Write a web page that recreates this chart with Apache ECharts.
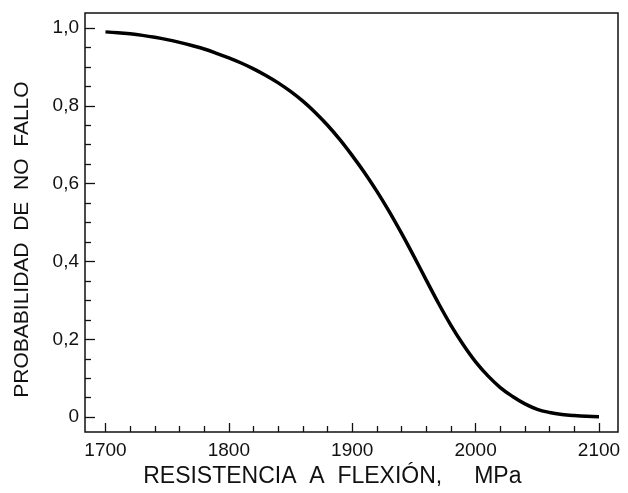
<!DOCTYPE html>
<html>
<head>
<meta charset="utf-8">
<script src="https://cdn.jsdelivr.net/npm/echarts@6/dist/echarts.min.js"></script>
<style>
  html, body { margin: 0; padding: 0; background: #fff; }
</style>
</head>
<body>
<div id="main" style="width: 628px; height: 493px;"></div>
<script>
// resistencia a flexión (MPa)
var resistencia = [1700, 1710, 1720, 1730, 1740, 1750, 1760, 1770, 1780, 1790,
  1800, 1810, 1820, 1830, 1840, 1850, 1860, 1870, 1880, 1890,
  1900, 1910, 1920, 1930, 1940, 1950, 1960, 1970, 1980, 1990,
  2000, 2010, 2020, 2030, 2040, 2050, 2060, 2070, 2080, 2090, 2100];
// probabilidad de no fallo
var probabilidad = [0.990, 0.988, 0.985, 0.981, 0.976, 0.970, 0.963, 0.955, 0.946, 0.935,
  0.923, 0.910, 0.895, 0.878, 0.859, 0.837, 0.812, 0.783, 0.750, 0.713,
  0.672, 0.628, 0.580, 0.528, 0.472, 0.413, 0.352, 0.292, 0.236, 0.186,
  0.142, 0.106, 0.076, 0.053, 0.034, 0.020, 0.012, 0.007, 0.004, 0.002, 0.001];

// marcas de los ejes
var xMayores = [1700, 1800, 1900, 2000, 2100];
var yMayores = [0, 0.2, 0.4, 0.6, 0.8, 1.0];

var xMenores = [];
for (var i = 0; i < xMayores.length - 1; i++) {
  for (var k = 1; k < 5; k++) xMenores.push(xMayores[i] + k * 20);
}
var yMenores = [];
for (var j = 0; j < yMayores.length - 1; j++) {
  for (var m = 1; m < 4; m++) yMenores.push(+(yMayores[j] + m * 0.05).toFixed(2));
}

var puntos = resistencia.map(function (x, i) { return [x, probabilidad[i]]; });

var myChart = echarts.init(document.getElementById('main'));
var fuente = "'Liberation Sans', Arial, sans-serif";
var negro = '#111';
var xRango = [1683.4, 2115.4];
var yRango = [-0.0359, 1.0385];

var option = {
  animation: false,
  grid: [
    // marco
    { left: 85, top: 13, right: 10, bottom: 61, show: true, borderColor: negro, borderWidth: 1.5, backgroundColor: 'transparent' },
    // ejes y curva
    { left: 85, top: 13, right: 10, bottom: 61 },
    // franja bajo el marco: sus marcas (eje superior) suben hacia dentro del marco
    { left: 85, top: 432, right: 10, height: 10 }
  ],
  xAxis: [
    { gridIndex: 0, type: 'value', show: false, min: 0, max: 1 },
    {
      gridIndex: 1,
      type: 'value',
      position: 'bottom',
      min: xRango[0],
      max: xRango[1],
      name: 'RESISTENCIA  A  FLEXIÓN,     MPa      ',
      nameLocation: 'middle',
      nameGap: 32,
      nameTextStyle: { fontFamily: fuente, fontSize: 23, color: negro },
      axisLine: { show: false, onZero: false },
      axisTick: { show: false },
      axisLabel: {
        margin: 10, fontFamily: fuente, fontSize: 19, color: negro,
        customValues: xMayores,
        formatter: function (v) { return String(v); }
      },
      splitLine: { show: false }
    },
    {
      gridIndex: 2,
      type: 'value',
      position: 'top',
      min: xRango[0],
      max: xRango[1],
      axisLine: { show: false, onZero: false },
      axisTick: { show: true, inside: false, length: 9, customValues: xMayores, lineStyle: { color: negro, width: 1.3 } },
      axisLabel: { show: false },
      splitLine: { show: false }
    },
    {
      gridIndex: 2,
      type: 'value',
      position: 'top',
      min: xRango[0],
      max: xRango[1],
      axisLine: { show: false, onZero: false },
      axisTick: { show: true, inside: false, length: 6, customValues: xMenores, lineStyle: { color: negro, width: 1.3 } },
      axisLabel: { show: false },
      splitLine: { show: false }
    }
  ],
  yAxis: [
    { gridIndex: 0, type: 'value', show: false, min: 0, max: 1 },
    {
      gridIndex: 1,
      type: 'value',
      position: 'left',
      min: yRango[0],
      max: yRango[1],
      name: 'PROBABILIDAD  DE  NO  FALLO      ',
      nameLocation: 'middle',
      nameGap: 52,
      nameTextStyle: { fontFamily: fuente, fontSize: 21, color: negro },
      axisLine: { show: false, onZero: false },
      axisTick: { show: true, inside: true, length: 10, customValues: yMayores, lineStyle: { color: negro, width: 1.3 } },
      axisLabel: {
        margin: 6, fontFamily: fuente, fontSize: 19, color: negro,
        customValues: yMayores,
        formatter: function (v) {
          if (v === 0) return '0';
          return v.toFixed(1).replace('.', ',');
        }
      },
      splitLine: { show: false }
    },
    {
      gridIndex: 1,
      type: 'value',
      position: 'left',
      min: yRango[0],
      max: yRango[1],
      axisLine: { show: false, onZero: false },
      axisTick: { show: true, inside: true, length: 6, customValues: yMenores, lineStyle: { color: negro, width: 1.3 } },
      axisLabel: { show: false },
      splitLine: { show: false }
    },
    { gridIndex: 2, type: 'value', show: false, min: 0, max: 1 }
  ],
  series: [
    {
      type: 'line',
      xAxisIndex: 1,
      yAxisIndex: 1,
      data: puntos,
      smooth: 0.4,
      showSymbol: false,
      lineStyle: { color: '#000', width: 3.5 }
    }
  ]
};

myChart.setOption(option);
</script>
</body>
</html>
